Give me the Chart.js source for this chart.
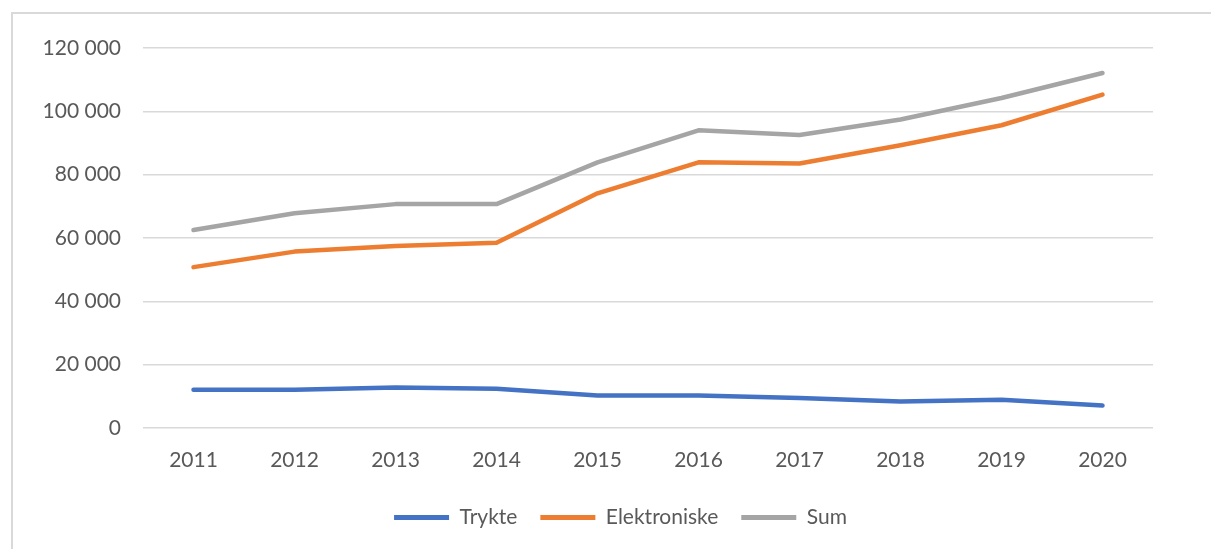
<!DOCTYPE html>
<html>
<head>
<meta charset="utf-8">
<script src="https://cdn.jsdelivr.net/npm/chart.js@4/dist/chart.umd.min.js"></script>
<style>
  html, body { margin: 0; padding: 0; background: #fff; }
  #wrap { position: relative; width: 1211px; height: 549px; }
  #frame { position: absolute; left: 11px; top: 12px; right: 0; bottom: 0;
           border-top: 2px solid #d9d9d9; border-left: 2px solid #d9d9d9; }
  canvas { position: absolute; left: 0; top: 0; }
</style>
</head>
<body>
<div id="wrap">
  <div id="frame"></div>
  <canvas id="chart" width="1211" height="549"></canvas>
</div>
<script>
// years on the x axis
const years = ["2011", "2012", "2013", "2014", "2015", "2016", "2017", "2018", "2019", "2020"];

// values
const trykte = [12100, 12100, 12800, 12400, 10300, 10300, 9500, 8400, 8900, 7100];
const elektroniske = [50800, 55700, 57500, 58500, 74100, 83900, 83500, 89300, 95600, 105300];
const sum = [62500, 67800, 70700, 70700, 83900, 94000, 92500, 97400, 104200, 112100];

const yTicks = [0, 20000, 40000, 60000, 80000, 100000, 120000];

const fmt = (v) => String(v).replace(/\B(?=(\d{3})+(?!\d))/g, " ");

const lineSet = (label, data, color) => ({
  label: label,
  data: data,
  borderColor: color,
  backgroundColor: color,
  borderWidth: 4.5,
  borderCapStyle: "round",
  borderJoinStyle: "round",
  pointRadius: 0,
  tension: 0
});

const font = { family: "Lato", size: 21 };

// nudge the legend a bit to the right, like the original
const legendShift = {
  id: "legendShift",
  afterLayout(chart) {
    chart.legend.left += 44;
    chart.legend.right += 44;
  }
};

new Chart(document.getElementById("chart"), {
  type: "line",
  data: {
    labels: years,
    datasets: [
      lineSet("Trykte", trykte, "#4472c4"),
      lineSet("Elektroniske", elektroniske, "#ed7d31"),
      lineSet("Sum", sum, "#a5a5a5")
    ]
  },
  plugins: [legendShift],
  options: {
    responsive: false,
    animation: false,
    layout: { padding: { left: 0, right: 58, top: 48, bottom: 11 } },
    plugins: {
      tooltip: { enabled: false },
      legend: {
        position: "bottom",
        labels: {
          font: font,
          color: "#595959",
          boxWidth: 55,
          boxHeight: 5,
          padding: 23,
          generateLabels: (chart) => chart.data.datasets.map((ds, i) => ({
            text: ds.label,
            fillStyle: ds.borderColor,
            strokeStyle: ds.borderColor,
            lineWidth: 0,
            fontColor: "#595959",
            datasetIndex: i
          }))
        }
      }
    },
    scales: {
      x: {
        offset: true,
        grid: { display: false },
        border: { display: false },
        ticks: { font: font, color: "#595959", padding: 12, maxRotation: 0 },
        afterFit: (scale) => { scale.height = 56; }
      },
      y: {
        min: 0,
        max: 120000,
        afterBuildTicks: (scale) => { scale.ticks = yTicks.map((v) => ({ value: v })); },
        grid: { color: "#d9d9d9", lineWidth: 1.5, drawTicks: false },
        border: { display: false },
        ticks: { font: font, color: "#595959", padding: 22, callback: (v) => fmt(v) },
        afterFit: (scale) => { scale.width = 143; }
      }
    }
  }
});
</script>
</body>
</html>
